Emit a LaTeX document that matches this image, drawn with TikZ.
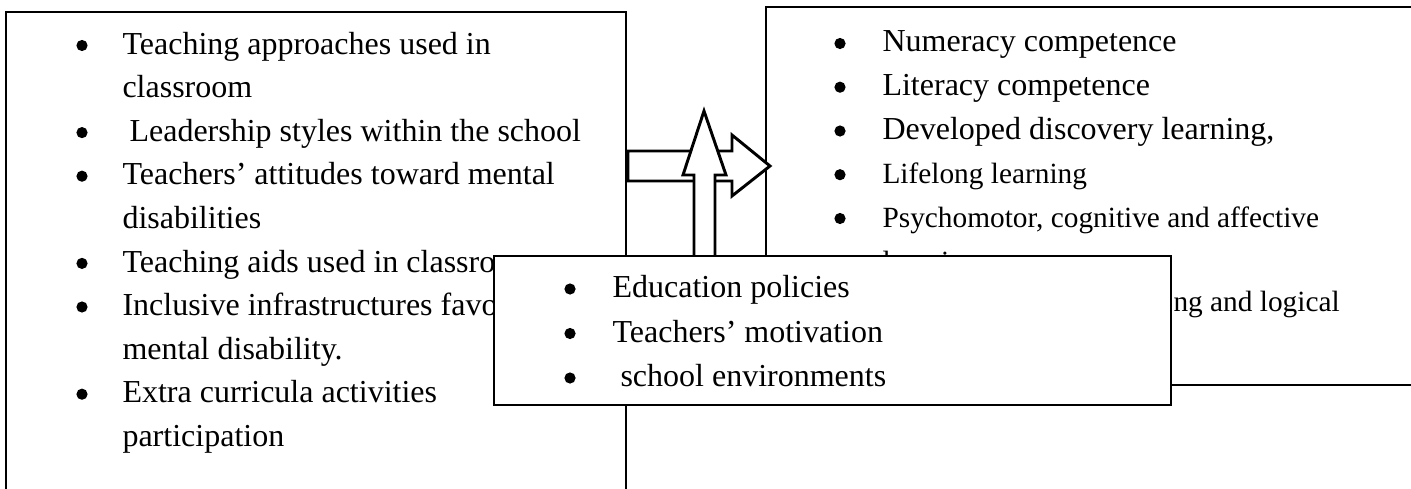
\documentclass[tikz,border=0pt]{standalone}
\usepackage{fontspec}
\setmainfont{Liberation Serif}
\usetikzlibrary{fit}
\begin{document}
\begin{tikzpicture}[x=0.375pt,y=-0.375pt,
  box/.style={draw=black, line width=0.75pt, inner sep=0pt},
  txt/.style={anchor=base west, inner sep=0pt, font=\fontsize{12}{14}\selectfont},
  stxt/.style={anchor=base west, inner sep=0pt, font=\fontsize{11}{13}\selectfont},
  blockarrow/.style={draw=black, fill=white, line width=1.1pt, line join=miter},
  bulletdot/.style={fill=black}]
\useasboundingbox (0,0) rectangle (1411,489);
\clip (0,0) rectangle (1411,489);

% ---------- left box ----------
\node[box, fit={(6,12) (626,560)}] (L) {};
\foreach \y in {45.5,132.6,176.2,263.4,307,394.2}
  \fill[bulletdot] (82,\y) circle[radius=2.1pt];
\node[txt] (l1)  at (122,54)    {Teaching approaches used in};
\node[txt] (l2)  at (122,97.6)  {classroom};
\node[txt] (l3)  at (129,141.2) {Leadership styles within the school};
\node[txt] (l4)  at (122,184.8) {Teachers’ attitudes toward mental};
\node[txt] (l5)  at (122,228.4) {disabilities};
\node[txt] (l6)  at (122,272)   {Teaching aids used in classro};
\node[txt] (l7)  at (122,315.6) {Inclusive infrastructures favo};
\node[txt] (l8)  at (122,359.2) {mental disability.};
\node[txt] (l9)  at (122,402.8) {Extra curricula activities};
\node[txt] (l10) at (122,446.4) {participation};

% ---------- right box ----------
\node[box, fit={(766,7) (1460,385)}] (R) {};
\foreach \y in {43.5,87.2,131,174.7,218.5,303.5}
  \fill[bulletdot] (840,\y) circle[radius=2.1pt];
\node[txt]  (r1) at (882,52)    {Numeracy competence};
\node[txt]  (r2) at (882,95.7)  {Literacy competence};
\node[txt]  (r3) at (882,139.5) {Developed discovery learning,};
\node[stxt] (r4) at (882,183.2) {Lifelong learning};
\node[stxt] (r5) at (882,227)   {Psychomotor, cognitive and affective};
\node[stxt] (r6) at (882,271)   {learning};
\node[stxt] (r7) at (1173,311)  {ng and logical};

% ---------- block arrows ----------
\draw[blockarrow] (628,151) -- (732,151) -- (732,135) -- (770,166)
  -- (732,196) -- (732,181) -- (628,181) -- cycle;
\draw[blockarrow] (694,262) -- (694,175) -- (683,175) -- (704,111)
  -- (726,175) -- (715,175) -- (715,262) -- cycle;

% ---------- bottom box ----------
\node[box, fill=white, fit={(494,256) (1171,405)}] (B) {};
\foreach \y in {289,333.5,378}
  \fill[bulletdot] (570,\y) circle[radius=2.1pt];
\node[txt] (b1) at (612,297.5) {Education policies};
\node[txt] (b2) at (612,342)   {Teachers’ motivation};
\node[txt] (b3) at (620,386.5) {school environments};
\end{tikzpicture}
\end{document}
